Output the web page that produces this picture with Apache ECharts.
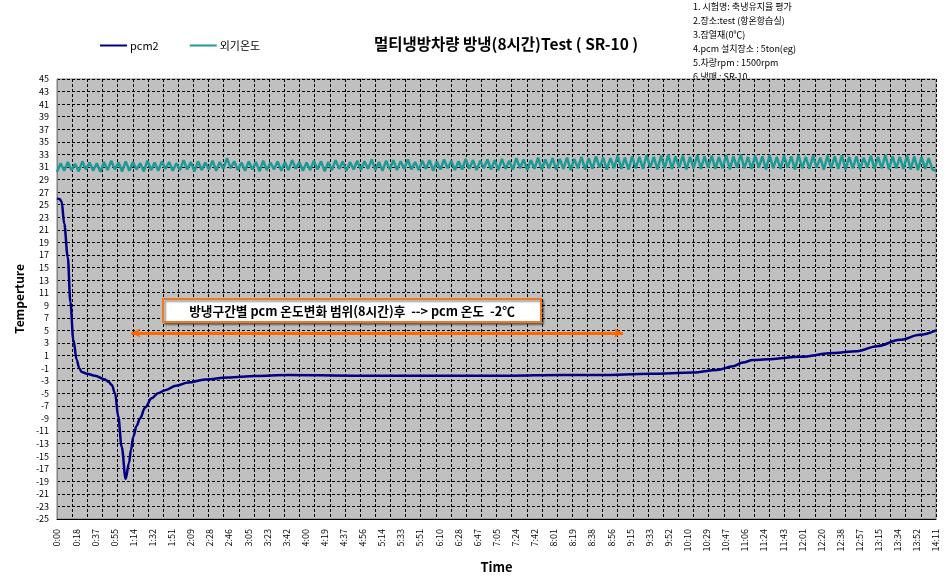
<!DOCTYPE html>
<html><head><meta charset="utf-8">
<script src="https://cdn.jsdelivr.net/npm/echarts@6/dist/echarts.min.js"></script>
<style>html,body{margin:0;padding:0;background:#fff}#c{width:951px;height:580px}</style>
</head><body><div id="c"></div>
<script>
const titleText = '멀티냉방차량 방냉(8시간)Test ( SR-10 )';
const seriesNames = ['pcm2', '외기온도'];
const xAxisTitle = 'Time';
const yAxisTitle = 'Temperture';
const xTickLabels = ['0:00','0:18','0:37','0:55','1:14','1:32','1:51','2:09','2:28','2:46','3:05','3:23','3:42','4:00','4:19','4:37','4:56','5:14','5:33','5:51','6:10','6:28','6:47','7:05','7:24','7:42','8:01','8:19','8:38','8:56','9:15','9:33','9:52','10:10','10:29','10:47','11:06','11:24','11:43','12:01','12:20','12:38','12:57','13:15','13:34','13:52','14:11'];
const yTickLabels = ['-25','-23','-21','-19','-17','-15','-13','-11','-9','-7','-5','-3','-1','1','3','5','7','9','11','13','15','17','19','21','23','25','27','29','31','33','35','37','39','41','43','45'];
const notes = ['1. 시험명: 축냉유지율 평가','2.장소:test (항온항습실)','3.잠열재(0℃)','4.pcm 설치장소 : 5ton(eg)','5.차량rpm : 1500rpm','6.냉매 : SR-10'];
const annotationText = '방냉구간별 pcm 온도변화 범위(8시간)후  --> pcm 온도  -2℃';

// pcm2: time in minutes, temperature
const pcmTime = [0,2.5,4.5,7,10.4,13,15.8,19.1,21.5,23.9,29,36.8,46.5,50,53,56.2,59.3,62.6,66.5,69.7,71.6,73.9,77,80.4,85.2,91.7,97.8,104.6,115.2,127.1,143.3,165.8,191.7,223.6,288.5,361,438.6,487,525.7,574,615.7,639,654.5,664,673.8,687.4,719.3,751.3,774.5,793.9,816.2,835.5,851];
const pcmTemp = [26.0,25.9,25.5,22.0,16.7,9.5,3.5,0.3,-1.0,-1.6,-1.9,-2.2,-2.8,-3.2,-3.7,-5.0,-8.7,-13.5,-18.6,-16.1,-14.0,-11.9,-10.2,-9.0,-7.3,-5.8,-5.0,-4.5,-3.8,-3.3,-2.8,-2.5,-2.25,-2.1,-2.2,-2.2,-2.2,-2.1,-2.1,-1.9,-1.7,-1.3,-0.7,-0.1,0.3,0.4,0.8,1.4,1.7,2.5,3.5,4.3,5.0];

// 외기온도: evenly sampled over the run
const outdoorTemp = [
30.2,31.6,30.4,31.8,30.5,31.5,30.3,31.9,30.6,31.7,30.4,31.6,30.2,31.8,30.5,32.0,30.6,31.7,30.3,31.9,
30.4,31.8,30.6,31.6,30.3,32.0,30.5,31.7,30.4,31.9,30.7,31.8,30.4,31.6,30.5,32.1,30.6,31.8,30.3,31.9,
30.5,31.7,30.6,32.0,30.4,31.8,30.7,32.4,30.8,31.9,30.5,31.7,30.4,31.9,30.6,31.8,30.3,32.0,30.5,31.7,
30.6,31.9,30.4,31.8,30.5,32.1,30.7,31.8,30.4,31.7,30.5,32.0,30.6,31.9,30.3,31.8,30.5,32.1,30.7,31.9,
30.4,31.8,30.6,32.0,30.5,31.9,30.7,32.2,30.5,31.8,30.4,32.0,30.6,32.1,30.5,31.9,30.7,32.2,30.6,31.8,
30.5,32.0,30.7,32.1,30.4,31.9,30.6,32.2,30.8,32.0,30.5,31.9,30.6,32.3,30.7,32.1,30.5,32.0,30.8,32.2,
30.6,32.1,30.5,32.3,30.7,32.0,30.6,32.4,30.8,32.2,30.5,32.1,30.7,32.5,30.6,32.2,30.8,32.4,30.6,32.3,
30.7,32.5,30.5,32.3,30.8,32.6,30.6,32.4,30.7,32.7,30.9,32.5,30.6,32.4,30.8,32.8,30.7,32.5,30.6,32.7,
30.8,32.6,30.7,32.9,30.9,32.6,30.6,32.8,30.8,33.0,30.7,32.7,30.9,32.8,30.6,32.6,30.8,32.9,30.7,32.7,
30.9,32.8,30.7,32.6,30.8,32.9,30.6,32.7,30.9,33.0,30.8,32.6,30.7,32.8,30.9,32.7,30.6,32.9,30.8,32.6,
30.7,32.8,30.9,32.7,30.6,32.9,30.8,32.6,30.7,32.8,30.9,32.5,30.6,32.8,30.8,32.7,30.7,32.9,30.6,32.6,
30.8,32.7,30.6,32.5,30.9,32.8,30.7,32.6,30.8,32.9,30.6,32.7,30.8,32.6,30.7,32.8,30.6,32.7,30.5,32.6,
30.7,32.4,30.6,30.4
];
const totalMinutes = 851;
const tickStep = 18.5;
// annotation arrow (minutes, temperature)
const arrowStart = 72;
const arrowEnd = 548;
const arrowLevel = 4.6;

const FONT = "'Noto Sans CJK KR', 'Noto Sans', sans-serif";
const pcmData = pcmTime.map((t, i) => [t, pcmTemp[i]]);
const outStep = totalMinutes / (outdoorTemp.length - 1);
const outData = outdoorTemp.map((v, i) => [i * outStep, v]);

const chart = echarts.init(document.getElementById('c'), null, {renderer: 'canvas'});
chart.setOption({
  animation: false,
  backgroundColor: '#fff',
  textStyle: {fontFamily: FONT},
  title: {
    text: titleText, left: 374, top: 36, padding: 0,
    textStyle: {fontSize: 15.5, fontWeight: 'bold', color: '#000', fontFamily: FONT}
  },
  legend: {
    data: seriesNames, left: 100, top: 40, padding: 0, itemWidth: 27, itemHeight: 2, itemGap: 31,
    icon: 'rect',
    textStyle: {fontSize: 11, color: '#000', fontFamily: FONT, padding: [0, 0, 0, -2]}
  },
  grid: {
    left: 57, right: 15, top: 79, bottom: 61, show: true,
    backgroundColor: '#C0C0C0', borderColor: '#808080', borderWidth: 1
  },
  xAxis: [{
    type: 'value', min: 0, max: totalMinutes, interval: tickStep,
    axisLine: {show: true, onZero: false, lineStyle: {color: '#000'}},
    axisTick: {show: false}, splitLine: {show: false},
    axisLabel: {rotate: 90, fontSize: 9, color: '#000', margin: 10, fontFamily: FONT,
      formatter: v => xTickLabels[Math.round(v / tickStep)]},
    name: xAxisTitle, nameLocation: 'middle', nameGap: 42,
    nameTextStyle: {fontSize: 13, fontWeight: 'bold', color: '#000', fontFamily: FONT}
  }, {
    type: 'value', min: 0, max: 58, interval: 1, position: 'top',
    axisLine: {show: false}, axisTick: {show: false}, axisLabel: {show: false},
    splitLine: {show: true, lineStyle: {color: '#000', type: [3, 2], width: 1}}
  }],
  yAxis: [{
    type: 'value', min: -25, max: 45, show: false
  }, {
    type: 'value', min: 0, max: 70, interval: 2, position: 'left',
    axisLine: {show: true, lineStyle: {color: '#808080'}}, axisTick: {show: false},
    axisLabel: {fontSize: 9, color: '#000', margin: 8, fontFamily: FONT,
      formatter: v => yTickLabels[Math.round(v / 2)]},
    splitLine: {show: true, lineStyle: {color: '#000', type: [3, 2], width: 1}},
    name: yAxisTitle, nameLocation: 'middle', nameGap: 28,
    nameTextStyle: {fontSize: 12, fontWeight: 'bold', color: '#000', fontFamily: FONT}
  }],
  series: [{
    name: seriesNames[1], type: 'line', xAxisIndex: 0, yAxisIndex: 0,
    data: outData, symbol: 'none', showSymbol: false,
    lineStyle: {color: '#1E9A96', width: 2.5}, itemStyle: {color: '#1E9A96'}, z: 3
  }, {
    name: seriesNames[0], type: 'line', xAxisIndex: 0, yAxisIndex: 0,
    data: pcmData, symbol: 'none', showSymbol: false, smooth: 0.35, smoothMonotone: 'x',
    lineStyle: {color: '#000080', width: 2.5}, itemStyle: {color: '#000080'}, z: 4,
    markLine: {
      silent: true, symbol: ['arrow', 'arrow'], symbolSize: [7, 9],
      lineStyle: {color: '#FF6600', width: 3, type: 'solid'},
      label: {show: false},
      data: [[{coord: [arrowStart, arrowLevel]}, {coord: [arrowEnd, arrowLevel]}]]
    }
  }],
  graphic: [{
    type: 'text', left: 693, top: 0, z: -10,
    style: {text: notes.join('\n'), fontSize: 9, lineHeight: 14, fill: '#000', fontFamily: FONT}
  }, {
    type: 'rect', z: 100,
    shape: {x: 163, y: 299, width: 378, height: 23},
    style: {fill: '#fff', stroke: '#F07820', lineWidth: 2,
      shadowBlur: 2, shadowOffsetX: 2, shadowOffsetY: 2, shadowColor: 'rgba(0,0,0,0.4)'}
  }, {
    type: 'text', z: 101, x: 352, y: 311,
    style: {text: annotationText, fontSize: 12.7, fontWeight: 'bold', fontFamily: FONT,
      fill: '#000', align: 'center', verticalAlign: 'middle'}
  }]
});
</script>
</body></html>
